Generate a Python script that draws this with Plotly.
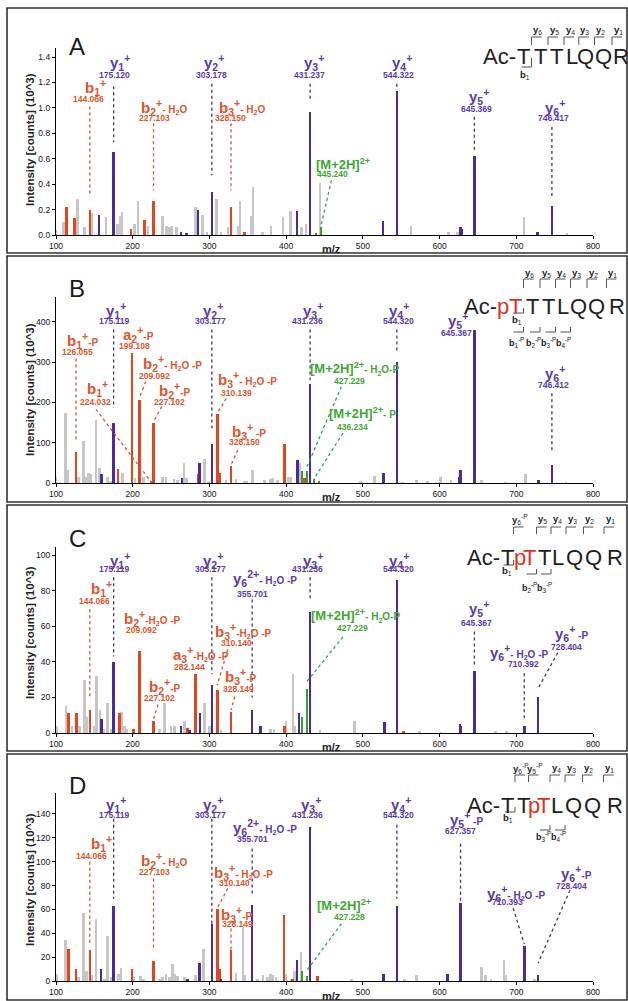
import plotly.graph_objects as go

W, H = 628, 1001

# ---------------- data (m/z, intensity) ----------------
# Panel A  (intensity in 10^3 counts)
A_gray_mz = [100, 110, 128, 137, 147, 165, 180, 184, 186, 202, 207, 220, 239, 244, 248, 251, 257,
             282, 291, 297, 309, 315, 324, 337, 340, 355, 357, 369, 380, 396, 406, 420, 426, 444,
             563, 612, 623, 710, 766]
A_gray_int = [0.04, 0.10, 0.28, 0.06, 0.17, 0.14, 0.09, 0.15, 0.18, 0.09, 0.27, 0.07, 0.15, 0.07, 0.065,
              0.07, 0.065, 0.22, 0.16, 0.02, 0.28, 0.02, 0.06, 0.07, 0.27, 0.15, 0.38, 0.02, 0.07, 0.14,
              0.19, 0.06, 0.09, 0.41, 0.07, 0.02, 0.02, 0.14, 0.01]
A_red_mz = [114, 124, 144.066, 198, 215, 227.103, 328.150, 346, 439]
A_red_int = [0.22, 0.13, 0.20, 0.05, 0.12, 0.27, 0.22, 0.02, 0.01]
A_blue_mz = [156, 175.120, 263, 270, 285, 303.178, 414, 431.237, 526, 544.322, 627, 629, 645.369, 728, 746.417]
A_blue_int = [0.16, 0.65, 0.02, 0.015, 0.20, 0.34, 0.19, 0.97, 0.11, 1.13, 0.065, 0.045, 0.62, 0.02, 0.23]
A_green_mz = [445.240]
A_green_int = [0.06]

# Panel B
B_gray_mz = [100, 112, 115, 129, 136, 139, 142, 145, 152, 157, 167, 171, 187, 203, 214, 239, 243.5, 254,
             258.7, 267, 270.4, 293.5, 298.7, 321.7, 334.8, 345.7, 349, 356.5, 371.7, 379.6, 382.6, 389,
             403, 406.5, 418, 497, 515, 552, 570, 584, 601, 615, 655, 686, 712, 765]
B_gray_int = [15, 173, 33, 14, 105, 14, 25, 23, 157, 37, 14, 4, 25, 12, 16, 16, 15, 10, 8, 50, 12, 59, 4,
              8, 10, 6, 6, 33, 8, 10, 12, 8, 14, 16, 50, 4, 18, 2, 7, 4, 16, 8, 7, 2, 23, 2]
B_red_mz = [126.055, 181, 199.108, 209.092, 224.032, 227.102, 285, 310.139, 313.5, 328.150, 398, 424, 443]
B_red_int = [78, 35, 322, 206, 3, 150, 23, 172, 25, 41, 97, 12, 6]
B_blue_mz = [159, 175.119, 264, 287, 303.177, 415, 431.236, 527, 544.320, 626, 627.5, 645.367, 729, 746.412]
B_blue_int = [23, 148, 12, 50, 97, 56, 247, 26, 301, 16, 33, 380, 8, 45]
B_green_mz = [420.5, 427.229, 436.234]
B_green_int = [31, 30, 10]

# Panel C
C_gray_mz = [101, 113, 121, 131, 137, 140, 150, 153, 157.4, 162, 167.4, 171.7, 185.7, 189, 192.6, 234.8,
             241.3, 250, 254.3, 267.4, 281, 293.5, 300, 315, 379.6, 384, 400, 408.7, 411, 444, 489, 574,
             602, 673, 687]
C_gray_int = [4, 15, 4, 4, 30, 9, 4, 32, 13, 2, 17, 2, 12, 4, 2, 2, 17, 4, 4, 7, 2, 17, 4, 1.5, 2, 2, 7,
              33, 4, 1.5, 7, 1, 0.5, 1, 1]
C_red_mz = [116.5, 127, 144.066, 182.6, 201, 209.092, 227.102, 271.7, 282.144, 310.140, 328.149, 397.8, 553]
C_red_int = [11, 11, 13, 11, 2, 46, 7, 3, 33, 24, 12, 4, 1]
C_blue_mz = [159.6, 175.119, 263, 274, 287.8, 303.177, 355.701, 366.5, 416.5, 431.236, 528, 544.320,
             626.5, 628, 645.367, 710.392, 728.404]
C_blue_int = [8, 40, 4, 1.5, 11, 27, 13, 4, 11, 68, 6, 86, 5, 4, 35, 4, 20]
C_green_mz = [420.9, 427.229]
C_green_int = [9, 25]

# Panel D
D_gray_mz = [101, 112, 129, 136, 140, 147, 152, 163, 167.4, 171.7, 181.3, 184.8, 201.3, 210, 214.3, 234.8,
             239, 243.5, 247.8, 252, 254.3, 258.7, 267.4, 281.7, 292.6, 334.8, 343.5, 345.7, 363, 369.6,
             376, 379.6, 382.6, 387, 400, 406.5, 410.9, 419.6, 484.8, 554, 569.6, 655, 660, 667, 683.9,
             686, 724]
D_gray_int = [6, 34, 3, 57, 8, 5, 52, 2, 38, 3, 6, 11, 3, 4, 2, 2, 3, 6, 3, 14, 6, 4, 3, 5, 27, 7, 45, 5,
              2, 5, 3, 6, 5, 3, 6, 2, 8, 24, 1, 2, 5, 12, 5, 1, 18, 5, 2]
D_red_mz = [116.5, 126, 144.066, 199, 227.103, 310.140, 313.5, 328.149, 397, 408, 441]
D_red_int = [27, 10, 26, 10, 17, 60, 10, 26, 55, 2, 4]
D_blue_mz = [158.7, 175.119, 271.7, 287, 303.177, 315, 355.701, 414, 431.236, 527, 544.320, 610, 627.357,
             710.393, 728.404]
D_blue_int = [10, 63, 1, 15, 48, 1, 64, 18, 129, 6, 63, 6, 65, 29, 5]
D_green_mz = [420.9, 427.228]
D_green_int = [8, 4]

x_ticks = [100, 200, 300, 400, 500, 600, 700, 800]
y_ranges = [(0, 1.471), (0, 462), (0, 104.5), (0, 157.6)]
y_dticks = [0.2, 100, 20, 20]
panel_letters = ["A", "B", "C", "D"]

# ---------------- style ----------------
GRAY = "#c6c6c6"
RED = "#e2461f"
BLUE = "#4a2a9c"
GREEN = "#3c9f2c"
RED_T = "#e0552c"
BLUE_T = "#5a3aa8"
GREEN_T = "#3fa833"
LINE_C = {"r": "#d9532f", "b": "#3a3388", "g": "#2f9c70"}
TXT_C = {"r": RED_T, "b": BLUE_T, "g": GREEN_T}
SANS = "Liberation Sans, Arial, sans-serif"

H2O = "H<sub>2</sub>O"


def ion(base, sub, sup, tail=""):
    s = f"{base}<sub>{sub}</sub><sup>{sup}</sup>"
    if tail:
        s += f"<span style='font-size:10px'>{tail}</span>"
    return f"<b>{s}</b>"


def mh(tail=""):
    s = "[M+2H]<sup>2+</sup>"
    if tail:
        s += f"<span style='font-size:10px'>{tail}</span>"
    return f"<b>{s}</b>"


# label: (colour, peak m/z, name, mass text, name pos, mass pos, leader start, gap above peak)
LA = [
    ("b", 175.120, ion("y", "1", "+"), "175.120", (183, 1.36), (176, 1.26), (175.12, 1.17), 0.08),
    ("r", 144.066, ion("b", "1", "+"), "144.066", (152, 1.16), (142, 1.07), (144.066, 1.01), 0.10),
    ("r", 227.103, ion("b", "2", "+", "- " + H2O), "227.103", (241, 1.0), (228, 0.92), (227.103, 0.88), 0.08),
    ("b", 303.178, ion("y", "2", "+"), "303.178", (306, 1.36), (303, 1.26), (303.178, 1.19), 0.13),
    ("r", 328.150, ion("b", "3", "+", "- " + H2O), "328.150", (343, 1.0), (328, 0.92), (328.15, 0.88), 0.13),
    ("b", 431.237, ion("y", "3", "+"), "431.237", (436, 1.36), (431, 1.26), (431.237, 1.19), 0.09),
    ("b", 544.322, ion("y", "4", "+"), "544.322", (551, 1.36), (546, 1.26), (544.322, 1.19), 0.03),
    ("b", 645.369, ion("y", "5", "+"), "645.369", (652, 1.09), (648, 0.995), (645.369, 0.93), 0.05),
    ("b", 746.417, ion("y", "6", "+"), "746.417", (751, 1.0), (748, 0.92), (746.417, 0.85), 0.06),
    ("g", 445.240, mh(), "445.240", (474, 0.56), (461, 0.48), (459, 0.43), 0.005),
]
LB = [
    ("b", 175.119, ion("y", "1", "+"), "175.119", (178, 429), (176, 403), (175.119, 381), 38),
    ("r", 126.055, ion("b", "1", "+", "-P"), "126.055", (135, 353), (128, 326), (126.055, 309), 23),
    ("r", 199.108, ion("a", "2", "+", "-P"), "199.108", (207, 370), (202, 341), None, 0),
    ("r", 209.092, ion("b", "2", "+", "- " + H2O + " -P"), "209.092", (252, 297), (228, 266), (217, 252), 8),
    ("r", 227.102, ion("b", "2", "+", "-P"), "227.102", (254, 231), (248, 202), (238, 190), 3),
    ("r", 224.032, ion("b", "1", "+"), "224.032", (154, 235), (152, 200), (152, 183), 0),
    ("b", 303.177, ion("y", "2", "+"), "303.177", (304, 429), (302, 403), (303.177, 381), 39),
    ("r", 310.139, ion("b", "3", "+", "- " + H2O + " -P"), "310.139", (350, 256), (335, 224), (322, 210), 1),
    ("r", 328.150, ion("b", "3", "+", " -P"), "328.150", (352, 128), (346, 101), (337, 82), 4),
    ("b", 431.236, ion("y", "3", "+"), "431.236", (435, 429), (428, 403), (431.236, 381), 9),
    ("b", 544.320, ion("y", "4", "+"), "544.320", (547, 429), (546, 403), (544.32, 381), 21),
    ("b", 645.367, ion("y", "5", "+"), "645.367", (624, 404), (622, 373), None, 0),
    ("b", 746.412, ion("y", "6", "+"), "746.412", (750, 272), (748, 243), (746.412, 223), 33),
    ("g", 427.229, mh("- H<sub>2</sub>O-P"), "427.229", (489, 285), (483, 253), (472, 239), 11),
    ("g", 436.234, mh("- P"), "436.234", (500, 173), (487, 140), (474, 124), 0),
]
LC = [
    ("b", 175.119, ion("y", "1", "+"), "175.119", (183, 97), (176, 92), (175.119, 87.5), 3),
    ("r", 144.066, ion("b", "1", "+"), "144.066", (159, 81), (150, 74), (144.066, 69.5), 6),
    ("r", 209.092, ion("b", "2", "+", "-" + H2O + " -P"), "209.092", (226, 64.5), (211, 58), None, 0),
    ("b", 303.177, ion("y", "2", "+"), "303.177", (304, 97), (302, 92), (303.177, 87.5), 6),
    ("b", 355.701, ion("y", "6", "2+", "- " + H2O + " -P"), "355.701", (372, 87), (356, 78), (355.701, 75), 7),
    ("r", 310.140, ion("b", "3", "+", "-" + H2O + " -P"), "310.140", (345, 57), (335, 50.5), (324, 47), 3),
    ("r", 282.144, ion("a", "3", "+", "-" + H2O + " -P"), "282.144", (289, 44), (274, 37), None, 0),
    ("r", 227.102, ion("b", "2", "+", "-P"), "227.102", (241, 26), (235, 19.6), (233, 16), 1),
    ("r", 328.149, ion("b", "3", "+", "-P"), "328.149", (341, 32), (338, 25), (333, 20.5), 1),
    ("b", 431.236, ion("y", "3", "+"), "431.236", (435, 97), (428, 92), (431.236, 87.5), 7),
    ("b", 544.320, ion("y", "4", "+"), "544.320", (547, 97), (546, 92), None, 0),
    ("b", 645.367, ion("y", "5", "+"), "645.367", (652, 70), (648, 62), (645.367, 57), 2),
    ("b", 710.392, ion("y", "6", "+", "- " + H2O + " -P"), "710.392", (703, 45), (709, 38.7), (710.392, 33.6), 4),
    ("b", 728.404, ion("y", "6", "+", " -P"), "728.404", (772, 56), (765, 48.6), (754, 45), 5),
    ("g", 427.229, mh("- H<sub>2</sub>O-P"), "427.229", (491, 66), (487, 59), (474, 54), 4),
]
LD = [
    ("b", 175.119, ion("y", "1", "+"), "175.119", (178, 147.6), (176, 139), (175.119, 136), 6),
    ("r", 144.066, ion("b", "1", "+"), "144.066", (159, 115), (146, 105), (144.066, 100), 5),
    ("r", 227.103, ion("b", "2", "+", "- " + H2O), "227.103", (241, 101), (228, 91), (227.103, 86), 11),
    ("b", 303.177, ion("y", "2", "+"), "303.177", (304, 147.6), (302, 139), (303.177, 136), 0),
    ("b", 355.701, ion("y", "6", "2+", "- " + H2O + " -P"), "355.701", (372, 128.5), (356, 119), (355.701, 111), 8),
    ("r", 310.140, ion("b", "3", "+", "- " + H2O + " -P"), "310.140", (345, 91), (333, 82), (324, 77.6), 1),
    ("r", 328.149, ion("b", "3", "+", "-P"), "328.149", (335, 56), (337, 48), (328.149, 44), 0),
    ("b", 431.236, ion("y", "3", "+"), "431.236", (433, 147.6), (428, 139), None, 0),
    ("b", 544.320, ion("y", "4", "+"), "544.320", (550, 147.6), (546, 139), (544.32, 131), 6),
    ("b", 627.357, ion("y", "5", "+", " -P"), "627.357", (635, 135), (627, 126), (627.357, 115), 1),
    ("b", 710.393, ion("y", "6", "+", "- " + H2O + " -P"), "710.393", (699, 73), (689, 66), (696, 61), 2),
    ("b", 728.404, ion("y", "6", "+", "-P"), "728.404", (778, 90), (772, 80), (770, 76), 10),
    ("g", 427.228, mh(), "427.228", (476, 63.5), (483, 54), (472, 48), 5),
]

K = "#1e1e1e"
PR = "#e0321e"
# sequence diagrams (pixel layout)
SEQ = [
    dict(top=8, ac=517, base=57, ylab=22, btop=29, bbot=37,
         letters=[("T", 523, K), ("T", 540, K), ("T", 556, K), ("L", 572, K), ("Q", 585.5, K), ("Q", 603.5, K), ("R", 620.5, K)],
         bounds=[531.5, 548, 564, 578.8, 594.5, 612],
         ylabels=["6", "5", "4", "3", "2", "1"], yP=[],
         brows=[(50, 59, 67, [(0, "1", False)])]),
    dict(top=257, ac=497.5, base=58, ylab=16, btop=22, bbot=31,
         letters=[("p", 503, PR), ("T", 515, PR), ("T", 532, K), ("T", 548, K), ("L", 563, K), ("Q", 578, K), ("Q", 596, K), ("R", 617, K)],
         bounds=[523.5, 540, 555.5, 570.5, 587, 606.5],
         ylabels=["6", "5", "4", "3", "2", "1"], yP=[],
         brows=[(51, 56, 63, [(0, "1", False)]),
                (70, 75, 85, [(0, "1", True), (1, "2", True), (2, "3", True), (3, "4", True)])]),
    dict(top=506, ac=501, base=59, ylab=13, btop=21, bbot=28,
         letters=[("T", 507, K), ("p", 520, PR), ("T", 529, PR), ("T", 544, K), ("L", 558, K), ("Q", 574, K), ("Q", 593, K), ("R", 615, K)],
         bounds=[513.5, 536.5, 551, 566, 583.5, 604],
         ylabels=["6", "5", "4", "3", "2", "1"], yP=[0],
         brows=[(54, 59, 65, [(0, "1", False)]),
                (63, 68, 81, [(1, "2", True), (2, "3", True)])]),
    dict(top=755, ac=501, base=58, ylab=13, btop=20, bbot=27,
         letters=[("T", 507, K), ("T", 523, K), ("p", 534, PR), ("T", 543, PR), ("L", 557, K), ("Q", 573, K), ("Q", 592, K), ("R", 615, K)],
         bounds=[515, 528.5, 550, 565, 582.5, 603.5],
         ylabels=["6", "5", "4", "3", "2", "1"], yP=[0, 1],
         brows=[(52, 57, 63, [(0, "1", False)]),
                (70, 75, 81, [(2, "3", True), (3, "4", True)])]),
]
SEQ_FONT = 22

panels = [
    dict(g=(A_gray_mz, A_gray_int), r=(A_red_mz, A_red_int), b=(A_blue_mz, A_blue_int), gr=(A_green_mz, A_green_int), labels=LA),
    dict(g=(B_gray_mz, B_gray_int), r=(B_red_mz, B_red_int), b=(B_blue_mz, B_blue_int), gr=(B_green_mz, B_green_int), labels=LB),
    dict(g=(C_gray_mz, C_gray_int), r=(C_red_mz, C_red_int), b=(C_blue_mz, C_blue_int), gr=(C_green_mz, C_green_int), labels=LC),
    dict(g=(D_gray_mz, D_gray_int), r=(D_red_mz, D_red_int), b=(D_blue_mz, D_blue_int), gr=(D_green_mz, D_green_int), labels=LD),
]

# pixel layout of the four panels
boxes = [(8, 253), (256, 502), (505, 751), (754, 1000)]
y_px = [(235, 48), (483, 297), (733, 547), (981, 793)]   # (zero line, axis top)
X_PX = (56, 593)
ytitle_py = [140, 390, 633, 880]
mz_py = [249, 497, 747, 996]
letter_py = [47, 288, 538, 785]


def PX(px):
    return px / W


def PY(py):
    return 1 - py / H


fig = go.Figure()
annotations = []
shapes = []
layout_axes = {}

for i, p in enumerate(panels):
    xr = "x" if i == 0 else f"x{i + 1}"
    yr = "y" if i == 0 else f"y{i + 1}"
    for key, col in (("g", GRAY), ("r", RED), ("b", BLUE), ("gr", GREEN)):
        mz, it = p[key]
        fig.add_trace(go.Bar(x=mz, y=it, width=3.4, marker=dict(color=col, line=dict(width=0)),
                             xaxis=xr, yaxis=yr, showlegend=False, hoverinfo="x+y"))
    xn = "xaxis" if i == 0 else f"xaxis{i + 1}"
    yn = "yaxis" if i == 0 else f"yaxis{i + 1}"
    layout_axes[xn] = dict(domain=[PX(X_PX[0]), PX(X_PX[1])], range=[100, 800], anchor=yr,
                           tickvals=x_ticks, ticks="outside", ticklen=3, tickwidth=1, tickcolor="black",
                           showline=True, linecolor="black", linewidth=1.3, showgrid=False, zeroline=False,
                           tickfont=dict(family=SANS, size=8.5, color="#111"), automargin=False)
    y0p, y1p = y_px[i]
    layout_axes[yn] = dict(domain=[PY(y0p), PY(y1p)], range=list(y_ranges[i]), anchor=xr,
                           dtick=y_dticks[i], tick0=0, ticks="outside", ticklen=3, tickwidth=1, tickcolor="black",
                           tickformat=".1f" if i == 0 else "d",
                           showline=True, linecolor="black", linewidth=1.3, showgrid=False, zeroline=False,
                           tickfont=dict(family=SANS, size=8.5, color="#111"), automargin=False)

    # peak labels with dotted leaders
    series = {"r": p["r"], "b": p["b"], "g": p["gr"]}
    for (c, pk, name, mass, npos, mpos, ls, gap) in p["labels"]:
        fs = 13 if c == "g" else 15
        annotations.append(dict(text=name, x=npos[0], y=npos[1], xref=xr, yref=yr, showarrow=False,
                                xanchor="center", yanchor="middle",
                                font=dict(family=SANS, size=fs, color=TXT_C[c])))
        annotations.append(dict(text=f"<b>{mass}</b>", x=mpos[0], y=mpos[1], xref=xr, yref=yr, showarrow=False,
                                xanchor="center", yanchor="middle",
                                font=dict(family=SANS, size=8.5, color=TXT_C[c])))
        if ls is not None:
            mzs, its = series[c]
            k = min(range(len(mzs)), key=lambda j: abs(mzs[j] - pk))
            shapes.append(dict(type="line", xref=xr, yref=yr, x0=ls[0], y0=ls[1], x1=mzs[k], y1=its[k] + gap,
                               line=dict(color=LINE_C[c], width=1.3, dash="dot")))

    # panel frame, letter, titles
    t, b = boxes[i]
    shapes.append(dict(type="rect", xref="paper", yref="paper", x0=PX(7), x1=PX(627), y0=PY(b), y1=PY(t),
                       line=dict(color="#333", width=1.6)))
    annotations.append(dict(text=panel_letters[i], x=PX(77), y=PY(letter_py[i]), xref="paper", yref="paper",
                            showarrow=False, xanchor="center", yanchor="middle",
                            font=dict(family=SANS, size=24, color="#1a1a1a")))
    annotations.append(dict(text="<b>Intensity [counts] (10^3)</b>", x=PX(30), y=PY(ytitle_py[i]), xref="paper",
                            yref="paper", showarrow=False, textangle=-90, xanchor="center", yanchor="middle",
                            font=dict(family=SANS, size=11.5, color="#222")))
    annotations.append(dict(text="<b>m/z</b>", x=PX(331), y=PY(mz_py[i]), xref="paper", yref="paper",
                            showarrow=False, xanchor="center", yanchor="middle",
                            font=dict(family=SANS, size=11, color="#222")))

    # peptide sequence with fragment brackets
    s = SEQ[i]
    top = s["top"]
    cy = top + s["base"] - 8
    annotations.append(dict(text="Ac-", x=PX(s["ac"] + 1), y=PY(cy), xref="paper", yref="paper", showarrow=False,
                            xanchor="right", yanchor="middle", font=dict(family=SANS, size=SEQ_FONT, color=K)))
    for ch, cx, col in s["letters"]:
        annotations.append(dict(text=ch, x=PX(cx), y=PY(cy), xref="paper", yref="paper", showarrow=False,
                                xanchor="center", yanchor="middle", font=dict(family=SANS, size=SEQ_FONT, color=col)))
    LC_ = "#555"
    for j, bx in enumerate(s["bounds"]):
        shapes.append(dict(type="line", xref="paper", yref="paper", x0=PX(bx), x1=PX(bx),
                           y0=PY(top + s["btop"]), y1=PY(top + s["bbot"]), line=dict(color=LC_, width=1)))
        shapes.append(dict(type="line", xref="paper", yref="paper", x0=PX(bx), x1=PX(bx + 10),
                           y0=PY(top + s["btop"]), y1=PY(top + s["btop"]), line=dict(color=LC_, width=1)))
        lab = f"<b>y</b><sub>{s['ylabels'][j]}</sub>" + ("<sup>-P</sup>" if j in s["yP"] else "")
        annotations.append(dict(text=lab, x=PX(bx + 6), y=PY(top + s["ylab"]), xref="paper", yref="paper",
                                showarrow=False, xanchor="center", yanchor="middle",
                                font=dict(family=SANS, size=9.5, color="#222")))
    for (r0, r1, rl, items) in s["brows"]:
        for (j, n, phos) in items:
            bx = s["bounds"][j]
            shapes.append(dict(type="line", xref="paper", yref="paper", x0=PX(bx), x1=PX(bx),
                               y0=PY(top + r0), y1=PY(top + r1), line=dict(color=LC_, width=1)))
            shapes.append(dict(type="line", xref="paper", yref="paper", x0=PX(bx - 10), x1=PX(bx),
                               y0=PY(top + r1), y1=PY(top + r1), line=dict(color=LC_, width=1)))
            lab = f"<b>b</b><sub>{n}</sub>" + ("<sup>-P</sup>" if phos else "")
            annotations.append(dict(text=lab, x=PX(bx - 7), y=PY(top + rl), xref="paper", yref="paper",
                                    showarrow=False, xanchor="center", yanchor="middle",
                                    font=dict(family=SANS, size=9 if phos else 9.5, color="#222")))

fig.update_layout(width=W, height=H, margin=dict(l=0, r=0, t=0, b=0, pad=0),
                  paper_bgcolor="white", plot_bgcolor="white", barmode="overlay", bargap=0,
                  showlegend=False, annotations=annotations, shapes=shapes,
                  font=dict(family=SANS), **layout_axes)

fig.write_html("out.html", config={"displayModeBar": False},
               post_script="document.body.style.margin='0';document.body.style.padding='0';")
